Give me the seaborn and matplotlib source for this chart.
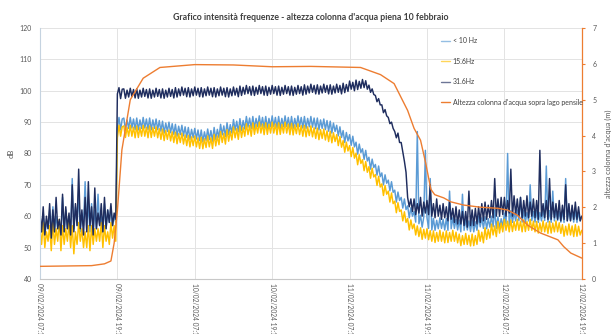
import numpy as np
import pandas as pd
import matplotlib
matplotlib.use("Agg")
import matplotlib.pyplot as plt
import matplotlib.dates as mdates
from matplotlib.lines import Line2D
import seaborn as sns

# readings every 15 minutes from 09/02/2024 07:12
start = pd.Timestamp("2024-02-09 07:12")
end = start + pd.Timedelta(hours=84)

# 31.6 Hz (dB), one row = 2 hours
hz31 = [
    61, 55, 63, 54, 60, 56, 64, 53,
    62, 55, 66, 56, 59, 54, 67, 55,
    63, 56, 61, 54, 70, 55, 64, 57,
    75, 56, 62, 54, 66, 55, 71, 57,
    63, 54, 69, 56, 61, 57, 64, 55,
    66, 56, 62, 58, 64, 57, 61, 59,
    99, 101, 97.5, 100.5, 100.6, 97.6, 100.2, 98.0,
    100.8, 98.2, 100.4, 97.7, 100.6, 97.6, 100.2, 98.0,
    100.8, 98.2, 100.4, 97.7, 100.6, 97.6, 100.2, 98.0,
    100.8, 98.2, 100.4, 97.7, 100.6, 97.6, 100.2, 98.0,
    100.8, 98.2, 100.4, 97.7, 101.0, 98.0, 100.6, 98.4,
    101.2, 98.6, 100.8, 98.1, 101.0, 98.0, 100.6, 98.4,
    101.2, 98.6, 100.8, 98.1, 101.0, 98.0, 100.6, 98.4,
    101.2, 98.6, 100.8, 98.1, 101.0, 98.0, 100.6, 98.4,
    101.2, 98.6, 100.8, 98.1, 101.0, 98.0, 100.6, 98.4,
    101.2, 98.6, 100.8, 98.1, 101.5, 98.5, 101.1, 98.9,
    101.7, 99.1, 101.3, 98.6, 101.5, 98.5, 101.1, 98.9,
    101.7, 99.1, 101.3, 98.6, 101.5, 98.5, 101.1, 98.9,
    101.7, 99.1, 101.3, 98.6, 101.5, 98.5, 101.1, 98.9,
    101.7, 99.1, 101.3, 98.6, 101.5, 98.5, 101.1, 98.9,
    101.7, 99.1, 101.3, 98.6, 101.9, 98.9, 101.5, 99.3,
    102.1, 99.5, 101.7, 99.0, 101.9, 98.9, 101.5, 99.3,
    102.1, 99.5, 101.7, 99.0, 101.9, 98.9, 101.5, 99.3,
    102.1, 99.5, 101.7, 99.0, 102.4, 99.4, 102.0, 99.8,
    103.1, 100.5, 102.7, 100.0, 103.4, 100.4, 103.0, 100.8,
    103.6, 101.0, 103.2, 100.5, 101.8, 99.5, 100.6, 98.8,
    98.5, 96.5, 97.5, 95.5, 95.5, 93.0, 94.0, 92.0,
    91.5, 89.5, 90.0, 88.0, 87.0, 85.0, 86.5, 83.5,
    83.5, 80.5, 77.5, 74.0, 66.0, 63.0, 65.5, 61.5,
    65.5, 60.5, 64.0, 61.0, 66.0, 60.0, 64.5, 61.0,
    65.0, 60.5, 70.0, 60.0, 64.0, 59.5, 65.5, 60.0,
    63.5, 59.0, 64.0, 59.5, 63.0, 58.5, 64.5, 59.0,
    62.5, 58.0, 63.0, 57.5, 62.0, 57.5, 61.5, 57.0,
    61.5, 56.5, 68.0, 57.0, 62.0, 57.0, 62.5, 57.5,
    63.0, 58.0, 64.0, 58.5, 64.5, 59.0, 63.5, 59.5,
    65.0, 59.5, 72.0, 60.0, 65.5, 60.0, 66.0, 60.5,
    66.0, 60.0, 65.0, 61.0, 75.0, 60.0, 66.5, 60.5,
    65.5, 60.0, 66.0, 59.5, 65.0, 60.0, 66.5, 59.5,
    64.5, 60.0, 65.5, 59.5, 65.0, 59.0, 81.0, 60.0,
    64.0, 59.5, 65.0, 59.0, 72.0, 59.0, 64.5, 59.5,
    64.0, 59.0, 65.0, 58.5, 63.5, 59.0, 70.0, 58.5,
    64.0, 58.5, 63.5, 59.0, 64.5, 59.0, 63.0, 58.5,
    60.0,
]

# < 10 Hz (dB)
hz10 = [
    59, 55, 61, 54, 58, 56, 62, 54,
    63, 55, 60, 56, 57, 54, 66, 55,
    62, 56, 60, 55, 72, 56, 63, 57,
    68, 55, 61, 57, 71, 56, 64, 55,
    64, 55, 62, 56, 67, 57, 60, 55,
    64, 56, 62, 58, 63, 57, 60, 58,
    88, 91.5, 87.5, 91, 91.3, 87.5, 90.7, 88.0,
    91.5, 88.1, 91.0, 87.6, 91.3, 87.5, 90.7, 88.0,
    91.5, 88.1, 91.0, 87.6, 91.3, 87.5, 90.7, 88.0,
    91.0, 87.6, 90.5, 87.1, 90.3, 86.5, 89.7, 87.0,
    90.0, 86.6, 89.5, 86.1, 89.3, 85.5, 88.7, 86.0,
    89.0, 85.6, 88.5, 85.1, 88.3, 84.5, 87.7, 85.0,
    88.0, 84.6, 87.5, 84.1, 87.5, 83.7, 86.9, 84.2,
    87.8, 84.4, 87.3, 83.9, 88.3, 84.5, 87.7, 85.0,
    89.3, 85.9, 88.8, 85.4, 89.8, 86.0, 89.2, 86.5,
    90.8, 87.4, 90.3, 86.9, 91.1, 87.3, 90.5, 87.8,
    91.8, 88.4, 91.3, 87.9, 91.8, 88.0, 91.2, 88.5,
    92.0, 88.6, 91.5, 88.1, 91.8, 88.0, 91.2, 88.5,
    92.0, 88.6, 91.5, 88.1, 91.8, 88.0, 91.2, 88.5,
    92.0, 88.6, 91.5, 88.1, 91.8, 88.0, 91.2, 88.5,
    92.0, 88.6, 91.5, 88.1, 91.8, 88.0, 91.2, 88.5,
    91.8, 88.4, 91.3, 87.9, 91.3, 87.5, 90.7, 88.0,
    91.0, 87.6, 90.5, 87.1, 90.3, 86.5, 89.7, 87.0,
    89.0, 85.6, 88.5, 85.1, 87.3, 83.5, 86.7, 84.0,
    86.0, 82.6, 85.5, 82.1, 83.6, 79.8, 83.0, 80.3,
    81.5, 78.1, 81.0, 77.6, 78.8, 75.0, 78.2, 75.5,
    76.5, 73.1, 76.0, 72.6, 73.8, 70.0, 73.2, 70.5,
    71.5, 68.1, 71.0, 67.6, 68.3, 64.5, 67.7, 65.0,
    66.0, 62.6, 65.5, 62.1, 63.3, 59.5, 62.7, 60.0,
    61.5, 58.1, 87.0, 57.6, 60.3, 56.5, 59.7, 81.0,
    59.5, 56.1, 72.0, 55.6, 59.3, 55.5, 58.7, 56.0,
    59.5, 56.1, 59.0, 55.6, 59.3, 55.5, 68.0, 56.0,
    59.5, 56.1, 59.0, 55.6, 58.8, 55.0, 67.0, 55.5,
    59.0, 55.6, 58.5, 55.1, 58.8, 55.0, 58.2, 55.5,
    60.0, 56.6, 59.5, 56.1, 59.8, 56.0, 59.2, 56.5,
    60.0, 56.6, 62.0, 56.1, 59.8, 56.0, 59.2, 56.5,
    61.0, 57.6, 80.0, 57.1, 61.8, 58.0, 61.2, 58.5,
    62.0, 58.6, 66.0, 58.1, 61.8, 58.0, 61.2, 58.5,
    70.0, 58.6, 61.5, 58.1, 61.8, 58.0, 61.2, 58.5,
    62.0, 58.6, 76.0, 58.1, 61.8, 58.0, 68.0, 58.5,
    62.0, 58.6, 61.5, 58.1, 61.8, 58.0, 72.0, 58.5,
    62.0, 58.6, 61.5, 58.1, 61.8, 58.0, 61.2, 58.5,
    60.0,
]

# 15.6 Hz (dB)
hz15 = [
    56, 51, 58, 50, 55, 52, 57, 49,
    58, 51, 56, 52, 59, 49, 57, 51,
    56, 52, 58, 50, 57, 48, 55, 51,
    58, 52, 56, 50, 55, 50, 57, 49,
    57, 51, 56, 52, 56, 52, 58, 50,
    57, 52, 55, 51, 58, 53, 57, 52,
    85, 89, 85.5, 88.5, 88.8, 85.1, 88.3, 85.5,
    89.0, 85.5, 88.4, 85.0, 88.8, 85.1, 88.3, 85.5,
    89.0, 85.5, 88.4, 85.0, 88.8, 85.1, 88.3, 85.5,
    88.5, 85.0, 87.9, 84.5, 87.8, 84.1, 87.3, 84.5,
    87.5, 84.0, 86.9, 83.5, 86.8, 83.1, 86.3, 83.5,
    86.5, 83.0, 85.9, 82.5, 85.8, 82.1, 85.3, 82.5,
    85.6, 82.1, 85.0, 81.6, 85.2, 81.5, 84.7, 81.9,
    85.6, 82.1, 85.0, 81.6, 86.1, 82.4, 85.6, 82.8,
    87.0, 83.5, 86.4, 83.0, 87.6, 83.9, 87.1, 84.3,
    88.5, 85.0, 87.9, 84.5, 88.8, 85.1, 88.3, 85.5,
    89.5, 86.0, 88.9, 85.5, 89.8, 86.1, 89.3, 86.5,
    90.0, 86.5, 89.4, 86.0, 89.8, 86.1, 89.3, 86.5,
    90.0, 86.5, 89.4, 86.0, 89.8, 86.1, 89.3, 86.5,
    90.0, 86.5, 89.4, 86.0, 89.6, 85.9, 89.1, 86.3,
    89.5, 86.0, 88.9, 85.5, 89.0, 85.3, 88.5, 85.7,
    88.8, 85.3, 88.2, 84.8, 88.1, 84.4, 87.6, 84.8,
    87.8, 84.3, 87.2, 83.8, 87.1, 83.4, 86.6, 83.8,
    86.0, 82.5, 85.4, 82.0, 84.1, 80.4, 83.6, 80.8,
    82.5, 79.0, 81.9, 78.5, 80.1, 76.4, 79.6, 76.8,
    78.0, 74.5, 77.4, 74.0, 75.8, 72.1, 75.3, 72.5,
    73.3, 69.8, 72.7, 69.3, 70.3, 66.6, 69.8, 67.0,
    68.0, 64.5, 67.4, 64.0, 64.8, 61.1, 64.3, 61.5,
    62.0, 58.5, 61.4, 58.0, 59.3, 55.6, 58.8, 56.0,
    57.5, 54.0, 56.9, 53.5, 56.3, 52.6, 55.8, 53.0,
    56.0, 52.5, 55.4, 52.0, 55.3, 51.6, 54.8, 52.0,
    55.5, 52.0, 54.9, 51.5, 55.3, 51.6, 54.8, 52.0,
    55.5, 52.0, 54.9, 51.5, 54.3, 50.6, 53.8, 51.0,
    54.5, 51.0, 53.9, 50.5, 54.3, 50.6, 53.8, 51.0,
    55.5, 52.0, 54.9, 51.5, 56.3, 52.6, 55.8, 53.0,
    57.5, 54.0, 56.9, 53.5, 58.3, 54.6, 57.8, 55.0,
    59.0, 55.5, 58.4, 55.0, 58.8, 55.1, 58.3, 55.5,
    59.0, 55.5, 58.4, 55.0, 58.8, 55.1, 58.3, 55.5,
    59.0, 55.5, 58.4, 55.0, 58.3, 54.6, 57.8, 55.0,
    58.5, 55.0, 57.9, 54.5, 58.3, 54.6, 57.8, 55.0,
    58.5, 55.0, 57.9, 54.5, 57.3, 53.6, 56.8, 54.0,
    57.5, 54.0, 56.9, 53.5, 57.3, 53.6, 56.8, 54.0,
    55.5,
]

# water column height (m), hours after start
level_hours = [0, 8, 10, 11, 11.5, 12, 12.7, 14, 16, 18.6, 24, 30, 36, 42,
               49.7, 52.8, 54.9, 57, 58, 59, 59.8, 60.6, 61.2, 62.6, 63.7,
               65.7, 68.3, 71, 72.5, 74, 75.6, 77.6, 80.3, 81.2, 82.3, 84]
level_m = [0.35, 0.37, 0.42, 0.5, 1.0, 1.9, 3.6, 5.0, 5.6, 5.9, 5.98, 5.97,
           5.92, 5.93, 5.9, 5.7, 5.45, 4.7, 4.2, 3.87, 3.23, 2.5, 2.35, 2.26,
           2.15, 2.06, 2.0, 1.97, 1.92, 1.78, 1.5, 1.28, 1.09, 0.9, 0.72, 0.58]
level_times = start + pd.to_timedelta(level_hours, unit="h")

labels = ["< 10 Hz", "15.6Hz", "31.6Hz",
          "Altezza colonna d'acqua sopra lago pensile"]
colors = ["#5B9BD5", "#FFC000", "#1F2D5E", "#ED7D31"]

sns.set_style("white")
plt.rcParams["font.family"] = ["Lato", "DejaVu Sans"]

fig = plt.figure(figsize=(6.15, 3.34), dpi=100)
ax = fig.add_axes([0.065, 0.165, 0.881, 0.751])
ax2 = ax.twinx()

for vals, col in zip([hz10, hz15, hz31], colors[:3]):
    t = pd.date_range(start, periods=len(vals), freq="15min")
    sns.lineplot(x=t, y=vals, ax=ax, color=col, lw=1.05, legend=False)
sns.lineplot(x=level_times, y=level_m, ax=ax2, color=colors[3], lw=1.0,
             legend=False)

ax.set_ylim(40, 120)
ax.set_yticks(range(40, 121, 10))
ax2.set_ylim(0, 7)
ax2.set_yticks(range(0, 8))
ax.set_xlim(start, end)
ax.set_xticks(pd.date_range(start, periods=8, freq="12h"))
ax.xaxis.set_major_formatter(mdates.DateFormatter("%d/%m/%Y %H:%M"))

ax.grid(True, color="#E3E3E3", lw=0.7)
ax.set_axisbelow(True)
ax.tick_params(axis="x", labelsize=4.8, labelcolor="#595959", rotation=270,
               length=0, pad=3)
ax.tick_params(axis="y", labelsize=5, labelcolor="#595959", length=0, pad=6)
ax2.tick_params(axis="y", labelsize=5, labelcolor="#595959", length=2.5,
                color=colors[3], pad=5)
for lab in ax.get_xticklabels():
    lab.set_horizontalalignment("center")

ax.set_ylabel("dB", fontsize=5.5, color="#595959", labelpad=3)
ax2.set_ylabel("altezza colonna d'acqua (m)", fontsize=5.3, color="#595959",
               labelpad=6)
ax.set_xlabel("")

for a in (ax, ax2):
    a.spines["top"].set_visible(False)
ax2.spines["left"].set_visible(False)
ax2.spines["bottom"].set_visible(False)
ax.spines["right"].set_visible(False)
ax.spines["left"].set_color("#C5D3E0")
ax.spines["bottom"].set_color("#C8C8C8")
ax2.spines["right"].set_color(colors[3])
for s in ("left", "bottom"):
    ax.spines[s].set_linewidth(0.8)
ax2.spines["right"].set_linewidth(0.9)

handles = [Line2D([], [], color=c, lw=1.0, alpha=0.65) for c in colors[:3]]
handles.append(Line2D([], [], color=colors[3], lw=1.0))
leg = ax2.legend(handles, labels, loc="upper left",
                 bbox_to_anchor=(0.735, 0.975), frameon=False, fontsize=5,
                 handlelength=1.3, handletextpad=0.4, labelspacing=1.95,
                 borderaxespad=0)
for t in leg.get_texts():
    t.set_color("#404040")

fig.suptitle("Grafico intensità frequenze - altezza colonna d'acqua piena 10 febbraio",
             x=0.505, y=0.96, fontsize=6.3, color="#404040", fontweight="bold")

fig.savefig("out.png", dpi=100)
